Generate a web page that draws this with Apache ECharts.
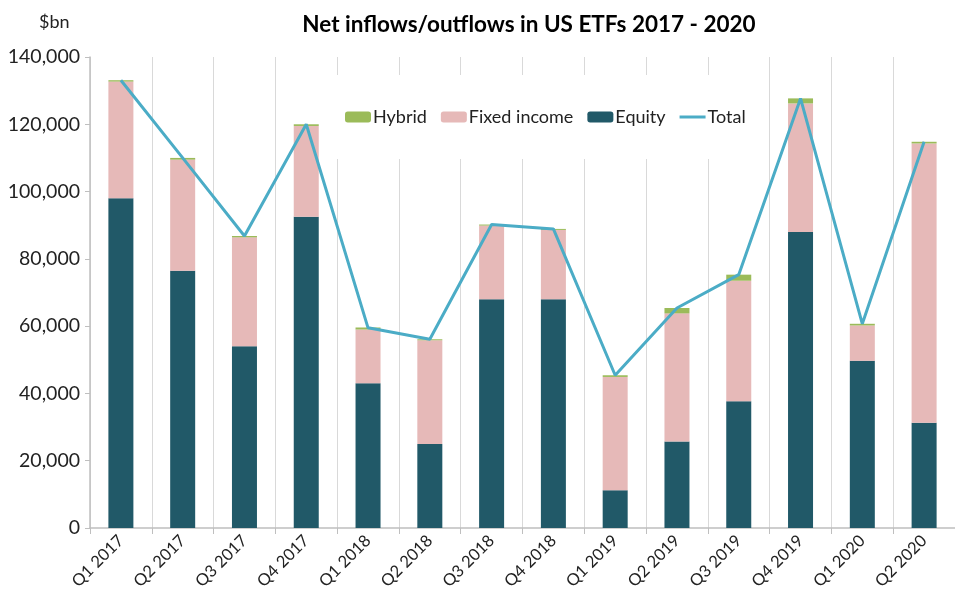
<!DOCTYPE html>
<html>
<head>
<meta charset="utf-8">
<script src="https://cdn.jsdelivr.net/npm/echarts@6/dist/echarts.min.js"></script>
<style>
  html, body { margin: 0; padding: 0; background: #fff; }
  #chart { width: 955px; height: 599px; }
</style>
</head>
<body>
<div id="chart"></div>
<script>
// quarters on the x axis
const quarters = ['Q1 2017', 'Q2 2017', 'Q3 2017', 'Q4 2017', 'Q1 2018', 'Q2 2018', 'Q3 2018',
    'Q4 2018', 'Q1 2019', 'Q2 2019', 'Q3 2019', 'Q4 2019', 'Q1 2020', 'Q2 2020'];
// $bn
const equity = [98000, 76500, 54000, 92500, 43000, 25000, 68000, 68000, 11200, 25700, 37700, 88000, 49700, 31300];
const fixedIncome = [34700, 33000, 32400, 27000, 16000, 30800, 21900, 20600, 33700, 38100, 35800, 38200, 10500, 83000];
const hybrid = [400, 500, 400, 500, 600, 300, 300, 300, 500, 1600, 1800, 1500, 500, 500];
const total = [133100, 110000, 86800, 120000, 59500, 56100, 90200, 88900, 45400, 65400, 75300, 127700, 60700, 114800];

const chart = echarts.init(document.getElementById('chart'))
const font = 'Lato, "Open Sans", sans-serif'

const option = {
    animation: false,
    textStyle: { fontFamily: font },
    title: [
        {
            text: 'Net inflows/outflows in US ETFs 2017 - 2020',
            left: 524,
            textAlign: 'center',
            top: 8,
            textStyle: { fontFamily: font, fontSize: 22.5, fontWeight: 'bold', color: '#000' }
        },
        {
            text: '$bn',
            left: 34,
            top: 8,
            textStyle: { fontFamily: font, fontSize: 18, fontWeight: 'normal', color: '#222' }
        }
    ],
    legend: {
        left: 335,
        top: 75,
        padding: [33, 20, 33, 10],
        backgroundColor: '#fff',
        itemWidth: 26,
        itemHeight: 11,
        itemGap: 14,
        textStyle: { fontFamily: font, fontSize: 18, color: '#222', padding: [0, 0, 0, -3] },
        data: [
            { name: 'Hybrid' },
            { name: 'Fixed income' },
            { name: 'Equity' },
            { name: 'Total', icon: 'path://M0,0 L26,0 L26,3 L0,3 Z' }
        ]
    },
    grid: { left: 90, right: -8, top: 57, bottom: 71 },
    xAxis: {
        type: 'category',
        data: quarters,
        axisLine: { lineStyle: { color: '#BFBFBF', width: 1.5 } },
        axisTick: { show: true, interval: 0, length: 6, lineStyle: { color: '#BFBFBF' } },
        splitLine: { show: true, interval: 0, lineStyle: { color: '#D9D9D9' } },
        axisLabel: { interval: 0, rotate: 45, fontSize: 16.5, color: '#222', margin: 10 }
    },
    yAxis: {
        type: 'value',
        min: 0,
        max: 140000,
        interval: 20000,
        axisLine: { show: true, lineStyle: { color: '#BFBFBF', width: 1.5 } },
        axisTick: { show: true, length: 5, lineStyle: { color: '#BFBFBF' } },
        splitLine: { show: false },
        axisLabel: {
            fontSize: 19.5,
            color: '#222',
            margin: 10,
            formatter: v => v.toLocaleString('en-US')
        }
    },
    series: [
        {
            name: 'Equity',
            type: 'bar',
            stack: 'flows',
            barWidth: 25,
            itemStyle: { color: '#215968' },
            data: equity
        },
        {
            name: 'Fixed income',
            type: 'bar',
            stack: 'flows',
            itemStyle: { color: '#E6B9B8' },
            data: fixedIncome
        },
        {
            name: 'Hybrid',
            type: 'bar',
            stack: 'flows',
            itemStyle: { color: '#9BBB59' },
            data: hybrid
        },
        {
            name: 'Total',
            type: 'line',
            symbol: 'none',
            z: 5,
            lineStyle: { color: '#4BACC6', width: 3 },
            itemStyle: { color: '#4BACC6' },
            data: total
        }
    ]
}

chart.setOption(option)
</script>
</body>
</html>
